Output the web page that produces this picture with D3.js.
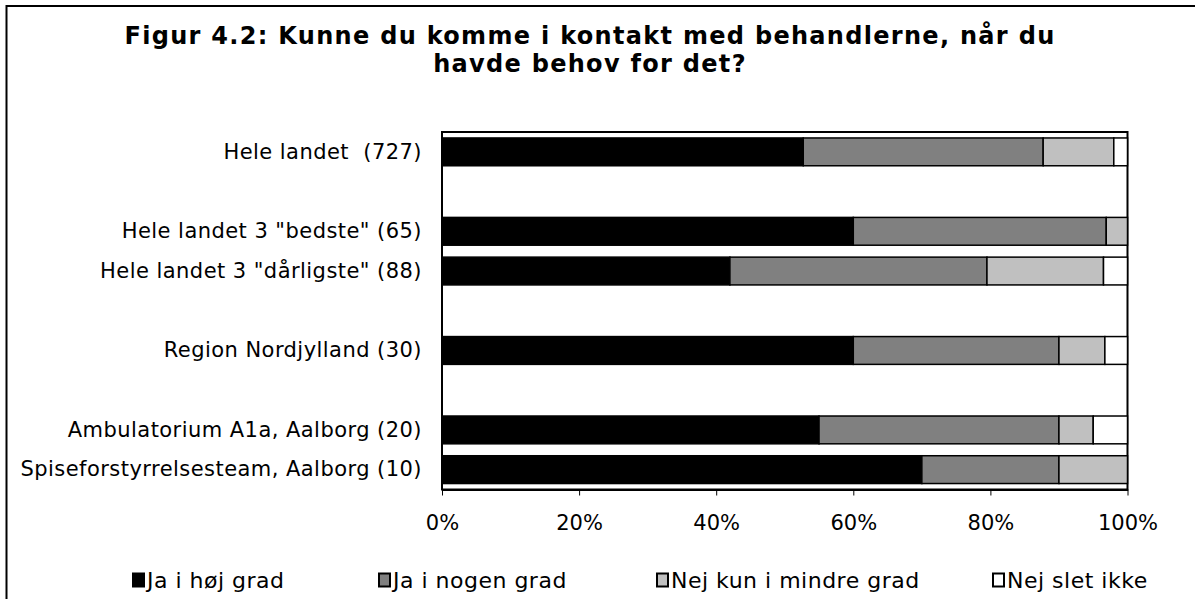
<!DOCTYPE html>
<html>
<head>
<meta charset="utf-8">
<script src="https://cdn.jsdelivr.net/npm/d3@7"></script>
<style>
  html, body { margin: 0; padding: 0; background: #fff; }
  svg { display: block; }
  text { font-family: "DejaVu Sans", Verdana, sans-serif; fill: #000; }
</style>
</head>
<body>
<svg id="chart" width="1195" height="599"></svg>
<script>
const categories = ['Hele landet  (727)', '', 'Hele landet 3 "bedste" (65)', 'Hele landet 3 "dårligste" (88)', '', 'Region Nordjylland (30)', '', 'Ambulatorium A1a, Aalborg (20)', 'Spiseforstyrrelsesteam, Aalborg (10)'];
const seriesNames = ['Ja i høj grad', 'Ja i nogen grad', 'Nej kun i mindre grad', 'Nej slet ikke'];
const jaHoejGrad = [52.7, null, 60.0, 42.0, null, 60.0, null, 55.0, 70.0];
const jaNogenGrad = [35.0, null, 36.9, 37.5, null, 30.0, null, 35.0, 20.0];
const nejMindreGrad = [10.3, null, 3.1, 17.0, null, 6.7, null, 5.0, 10.0];
const nejSletIkke = [2.0, null, 0, 3.5, null, 3.3, null, 5.0, 0];
const tickValues = [0, 20, 40, 60, 80, 100];
const tickLabels = ['0%', '20%', '40%', '60%', '80%', '100%'];
const colors = ['#000000', '#808080', '#c0c0c0', '#ffffff'];
const titleLines = ['Figur 4.2: Kunne du komme i kontakt med behandlerne, når du', 'havde behov for det?'];

const svg = d3.select('#chart');
const W = 1195, H = 599;
const plot = {left: 442, right: 1127.5, top: 132, bottom: 489.5};
const FONT = '"DejaVu Sans", Verdana, sans-serif';

// outer frame
svg.append('rect').attr('x', 6.5).attr('y', 6).attr('width', W + 10).attr('height', H + 10)
  .attr('fill', '#fff').attr('stroke', '#000').attr('stroke-width', 2);

// title
svg.append('g').selectAll('text').data(titleLines).join('text')
  .attr('x', 590).attr('y', (d, i) => 44 + i * 28)
  .attr('text-anchor', 'middle').attr('font-size', 24).attr('font-weight', 'bold')
  .attr('letter-spacing', 1.3)
  .text(d => d);

const x = d3.scaleLinear().domain([0, 100]).range([plot.left, plot.right]);
const y = d3.scaleBand().domain(d3.range(categories.length)).range([plot.top, plot.bottom]).paddingInner(0.3).paddingOuter(0.15);

const seriesArrays = [jaHoejGrad, jaNogenGrad, nejMindreGrad, nejSletIkke];
const rows = categories.map((c, i) => ({i, vals: seriesArrays.map(a => a[i])})).filter(r => r.vals[0] !== null);

// plot area
svg.append('rect').attr('x', plot.left).attr('y', plot.top).attr('width', plot.right - plot.left).attr('height', plot.bottom - plot.top)
  .attr('fill', '#fff').attr('stroke', '#000').attr('stroke-width', 2);

const barG = svg.append('g');
rows.forEach(r => {
  let cum = 0;
  r.vals.forEach((v, k) => {
    if (v > 0) {
      barG.append('rect')
        .attr('x', x(cum)).attr('width', x(cum + v) - x(cum))
        .attr('y', y(r.i)).attr('height', y.bandwidth())
        .attr('fill', colors[k]).attr('stroke', '#000').attr('stroke-width', 1.5);
    }
    cum += v;
  });
});

// x axis
const xAxis = d3.axisBottom(x).tickValues(tickValues).tickFormat((d, i) => tickLabels[i]).tickSize(6).tickSizeOuter(0).tickPadding(20);
const gx = svg.append('g').attr('transform', `translate(0,${plot.bottom})`).call(xAxis);
gx.select('.domain').attr('stroke', '#000').attr('stroke-width', 2);
gx.selectAll('.tick line').attr('stroke', '#000').attr('stroke-width', 1);
gx.selectAll('.tick text').attr('font-size', 21).attr('font-family', FONT);

// y axis labels
const yAxis = d3.axisLeft(y).tickFormat(i => categories[i]).tickSize(0).tickPadding(20);
const gy = svg.append('g').attr('transform', `translate(${plot.left},0)`).call(yAxis);
gy.select('.domain').remove();
gy.selectAll('.tick text').attr('font-size', 21).attr('font-family', FONT)
  .attr('letter-spacing', 0.45).style('white-space', 'pre');

// legend
const legendX = [133, 379, 657, 993];
const lg = svg.append('g').selectAll('g').data(seriesNames).join('g')
  .attr('transform', (d, i) => `translate(${legendX[i]},580)`);
lg.append('rect').attr('x', 0).attr('y', -6.5).attr('width', 11).attr('height', 13)
  .attr('fill', (d, i) => colors[i]).attr('stroke', '#000').attr('stroke-width', 2);
lg.append('text').attr('x', 14).attr('y', 8).attr('font-size', 22).attr('letter-spacing', 0.5).text(d => d);
</script>
</body>
</html>
